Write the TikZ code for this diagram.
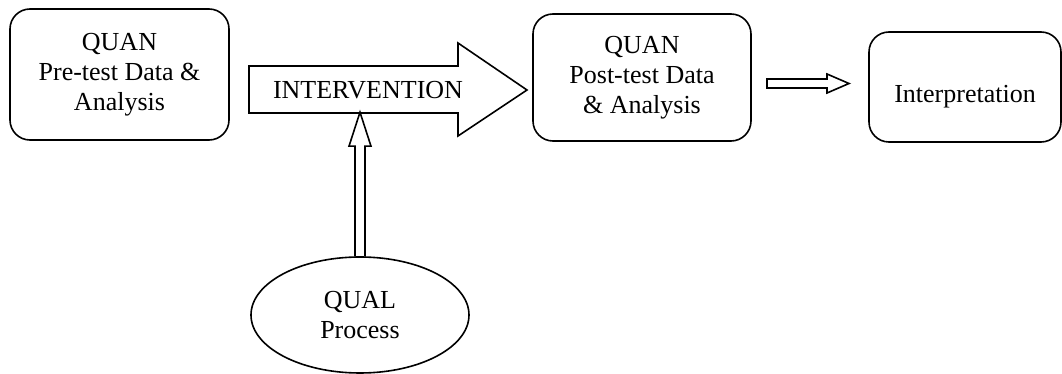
\documentclass[tikz,border=0pt]{standalone}
\usepackage{fontspec}
\setmainfont{Liberation Serif}
\usetikzlibrary{shapes.geometric}
\tikzset{
	stagebox/.style={draw, rounded corners=10pt, align=center, inner sep=0pt},
	blockarrow/.style={draw, line join=miter},
}
\begin{document}
\begin{tikzpicture}[x=0.5pt, y=-0.5pt, line width=0.8pt, font=\fontsize{13}{15}\selectfont, line join=round, 
	line cap=round]
	\useasboundingbox (0,0) rectangle (1062,374);
	\node[stagebox, minimum width=109.5pt, minimum height=65.5pt] (pre) at (119.5,74.5) {QUAN\\Pre-test Data \&\\Analysis};
	\node[stagebox, minimum width=109pt, minimum height=63.5pt] (post) at (642,77.5) {QUAN\\Post-test Data\\\& Analysis};
	\node[stagebox, minimum width=96pt, minimum height=55pt, text height=18pt, text depth=2.7pt] (interp) at (965,87) {Interpretation};
	\node[draw, ellipse, inner sep=0pt, minimum width=109pt, minimum height=58pt, align=center] (qual) at (360,315) {QUAL\\Process};
	% block arrows
	\draw[blockarrow] (249,66) -- (458,66) -- (458,43) -- (527,90) -- (458,136) -- (458,113) -- (249,113) -- cycle;
	\node (interv) at (368,90) {INTERVENTION};
	\draw[blockarrow] ([xshift=-2.5pt]qual.north) -- ++(0,-110) -- ++(-6,0) -- ++(11,-34) -- ++(11,34) -- ++(-6,0) -- ++(0,110);
	\draw[blockarrow] (767,79) -- (827,79) -- (827,74) -- (849,83.5) -- (827,93) -- (827,88) -- (767,88) -- cycle;
\end{tikzpicture}
\end{document}
